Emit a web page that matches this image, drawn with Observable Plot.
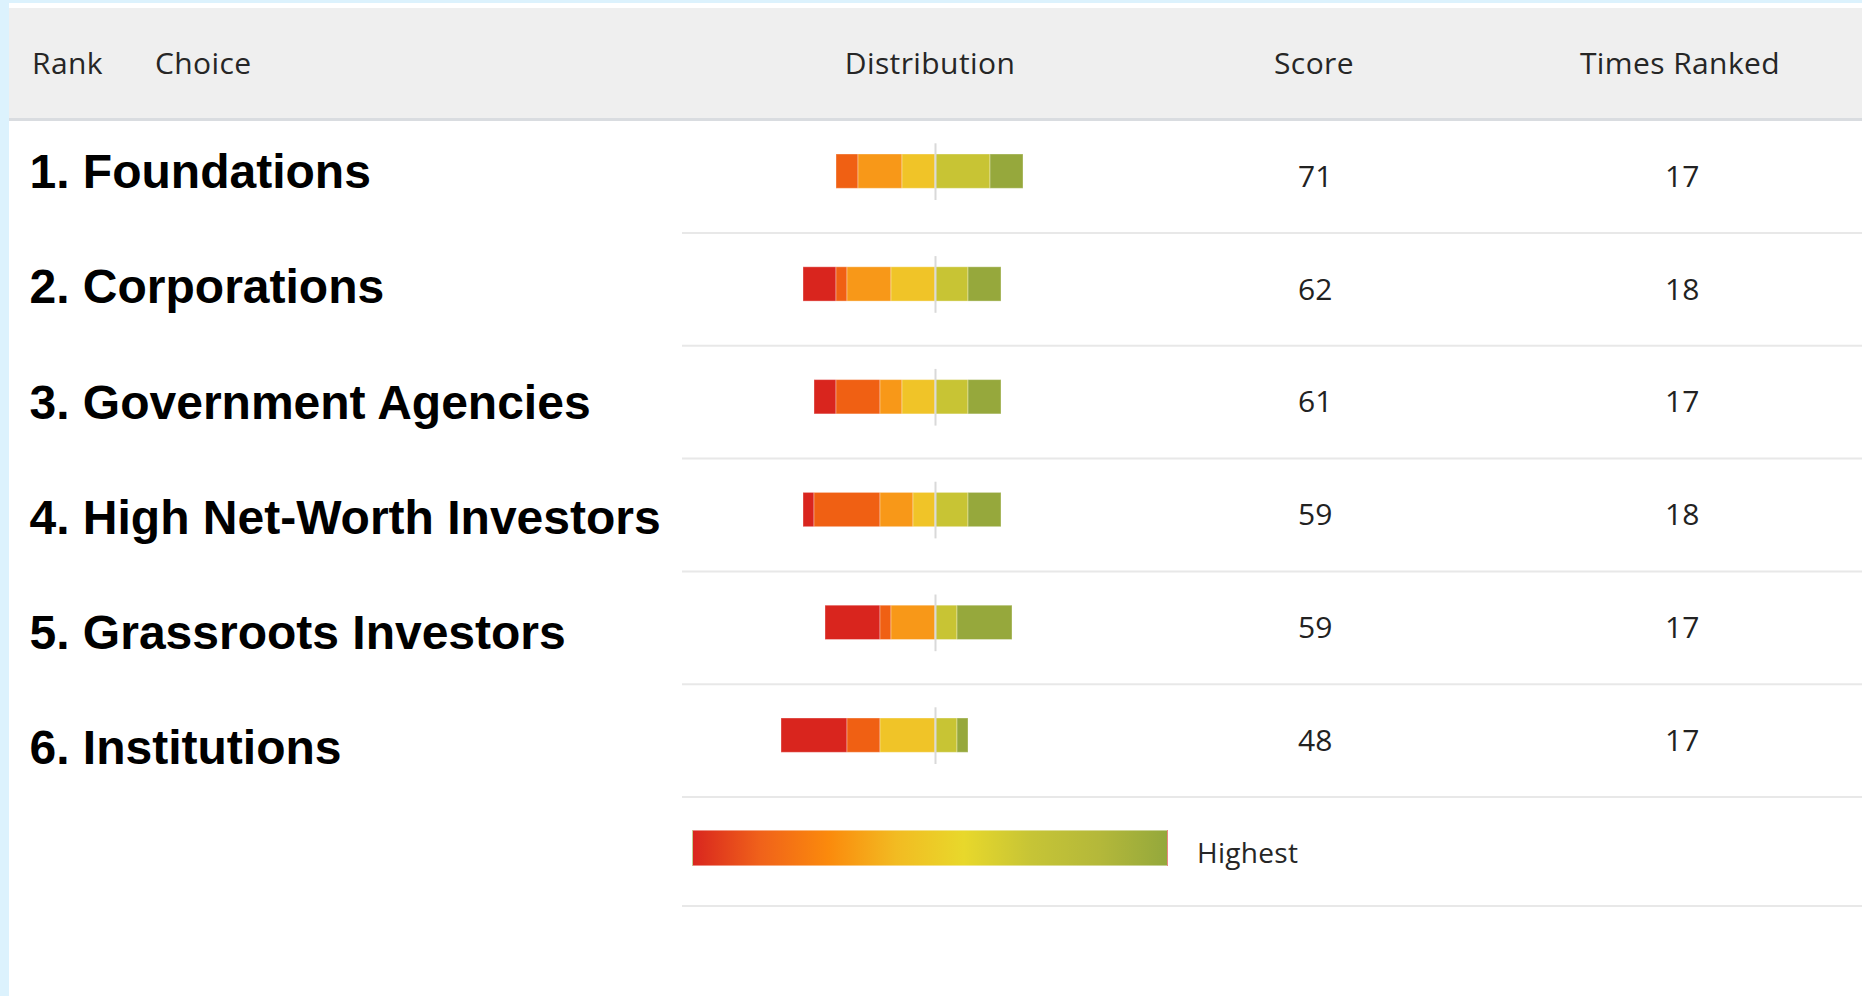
<!DOCTYPE html>
<html>
<head>
<meta charset="utf-8">
<script src="https://cdn.jsdelivr.net/npm/d3@7"></script>
<script src="https://cdn.jsdelivr.net/npm/@observablehq/plot@0.6"></script>
<style>
  html, body { margin: 0; padding: 0; }
  body { width: 1862px; height: 996px; background: #dcf2fd; overflow: hidden; position: relative; font-family: "Open Sans", sans-serif; }
  #panel { position: absolute; left: 9px; top: 3px; width: 1853px; height: 993px; background: #ffffff; }
  #header { position: absolute; left: 0; top: 5px; width: 1853px; height: 110px; background: #efefef; border-bottom: 3px solid #d9dce0; }
  #header span { position: absolute; top: 40px; font-size: 30px; line-height: 30px; color: #262626; white-space: nowrap; letter-spacing: 0.4px; }
  #header span.c { transform: translateX(-50%); }
  #chart { position: absolute; left: 0; top: 118px; }
  #labels { position: absolute; left: 0; top: 118px; }
  #legend-bar { position: absolute; left: 683px; top: 827px; width: 476px; height: 36px; border: 1px solid rgba(255,255,255,0.45); box-sizing: border-box; }
  #legend-label { position: absolute; left: 1188px; top: 835px; font-size: 28px; line-height: 28px; color: #262626; white-space: nowrap; letter-spacing: 0.3px; }
  #legend-rule { position: absolute; left: 673px; top: 902px; width: 1180px; height: 2px; background: #e8e8e8; }
</style>
</head>
<body>
<div id="panel">
  <div id="header"></div>
  <div id="chart"></div>
  <div id="labels"></div>
  <div id="legend-bar"></div>
  <div id="legend-label"></div>
  <div id="legend-rule"></div>
</div>
<script>
// ---- data ----
const headers = ["Rank", "Choice", "Distribution", "Score", "Times Ranked"];
const choices = ["Foundations", "Corporations", "Government Agencies", "High Net-Worth Investors", "Grassroots Investors", "Institutions"];
const scores = [71, 62, 61, 59, 59, 48];
const timesRanked = [17, 18, 17, 18, 17, 17];
// number of times each choice got a given rank (lowest rank -> highest rank)
const rankNames = ["6th", "5th", "4th", "3rd", "2nd", "1st"];
const rank6 = [0, 3, 2, 1, 5, 6];
const rank5 = [2, 1, 4, 6, 1, 3];
const rank4 = [4, 4, 2, 3, 4, 0];
const rank3 = [3, 4, 3, 2, 0, 5];
const rank2 = [5, 3, 3, 3, 2, 2];
const rank1 = [3, 3, 3, 3, 5, 1];
const rankColors = ["#d9251e", "#f06013", "#f89818", "#f0c428", "#c8c434", "#96a83c"];
const legendText = "Highest";
const legendStops = ["#d9261e", "#f0621a", "#fb8a0c", "#f2bb22", "#e8d82b", "#c6c436", "#b4b83a", "#94a83c"];

// ---- derived tables ----
const counts = [rank6, rank5, rank4, rank3, rank2, rank1];
const leftCount = 4; // first four rank groups sit left of the centre line
const segments = [];
choices.forEach((c, i) => {
  let x = -counts.slice(0, leftCount).reduce((s, a) => s + a[i], 0);
  counts.forEach((arr, k) => {
    const n = arr[i];
    if (n > 0) segments.push({choice: c, rank: rankNames[k], x1: x, x2: x + n});
    x += n;
  });
});
const rows = choices.map((c, i) => ({choice: c, label: `${i + 1}. ${c}`, score: String(scores[i]), times: String(timesRanked[i])}));

// ---- header (HTML, above the SVG) ----
const header = document.getElementById("header");
const headerPos = [{left: 23}, {left: 146}, {left: 921, c: true}, {left: 1305, c: true}, {left: 1671, c: true}];
headers.forEach((h, i) => {
  const s = document.createElement("span");
  s.textContent = h;
  s.style.left = headerPos[i].left + "px";
  if (headerPos[i].c) s.className = "c";
  header.appendChild(s);
});

// ---- chart ----
const chart = Plot.plot({
  width: 1853,
  height: 679,
  marginLeft: 673,
  marginRight: 0,
  marginTop: 0,
  marginBottom: 0,
  style: {background: "transparent", overflow: "visible"},
  x: {domain: [0, 1], range: [926, 937], axis: null},
  y: {domain: choices, range: [-1.3, 675.5], padding: 0, round: false, axis: null},
  color: {domain: rankNames, range: rankColors},
  marks: [
    Plot.ruleY(choices, {y: d => d, dy: 56.4, stroke: "#e8e8e8", strokeWidth: 2}),
    Plot.barX(segments, {x1: "x1", x2: "x2", y: "choice", fill: "rank", insetTop: 34.3, insetBottom: 44.2, stroke: "#ffffff", strokeOpacity: 0.35, strokeWidth: 1}),
    Plot.tickX(rows, {x: () => 0, y: "choice", stroke: "#d9d9d9", strokeWidth: 2, insetTop: 23.6, insetBottom: 32.5}),
    Plot.text(rows, {y: "choice", text: "score", frameAnchor: "left", dx: 632.7, dy: 0.5, textAnchor: "middle", fontSize: 30, fontFamily: "'Open Sans', sans-serif", fill: "#222222"}),
    Plot.text(rows, {y: "choice", text: "times", frameAnchor: "left", dx: 999.7, dy: 0.5, textAnchor: "middle", fontSize: 30, fontFamily: "'Open Sans', sans-serif", fill: "#222222"})
  ]
});
document.getElementById("chart").appendChild(chart);

// ---- choice labels column (its own row spacing) ----
const labels = Plot.plot({
  width: 673,
  height: 679,
  margin: 0,
  style: {background: "transparent", overflow: "visible"},
  y: {type: "point", domain: choices, range: [51.5, 627], padding: 0, round: false, axis: null},
  marks: [
    Plot.text(rows, {y: "choice", text: "label", frameAnchor: "left", dx: 20, textAnchor: "start", fontSize: 48, fontWeight: "bold", fontFamily: "'Liberation Sans', Arial, sans-serif", fill: "#000000"})
  ]
});
document.getElementById("labels").appendChild(labels);

// ---- legend (HTML, below the SVG) ----
document.getElementById("legend-bar").style.background = `linear-gradient(to right, ${legendStops.join(", ")})`;
document.getElementById("legend-label").textContent = legendText;
</script>
</body>
</html>
